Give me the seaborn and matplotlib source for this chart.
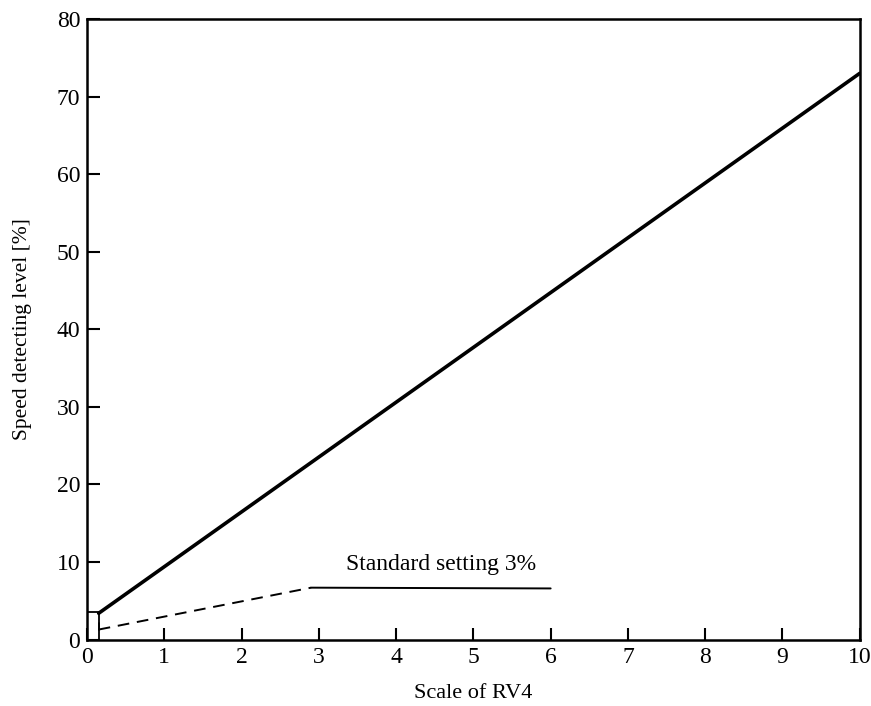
import numpy as np
import pandas as pd
import matplotlib
matplotlib.use("Agg")
import matplotlib.pyplot as plt
import seaborn as sns

# data
rv4_scale = [0.15, 10.0]
detect_level = [3.4, 73.0]
leader_x = [0.15, 2.9, 6.0]
leader_y = [1.3, 6.7, 6.6]
x_ticks = [0, 1, 2, 3, 4, 5, 6, 7, 8, 9, 10]
y_ticks = [0, 10, 20, 30, 40, 50, 60, 70, 80]

sns.set_theme(style="white")
plt.rcParams['font.family'] = ['Liberation Serif', 'DejaVu Serif']

fig = plt.figure(figsize=(8.71, 7.06), dpi=100)
ax = fig.add_axes([0.100, 0.094, 0.887, 0.879])

df = pd.DataFrame({'x': rv4_scale, 'y': detect_level})
sns.lineplot(data=df, x='x', y='y', color='black', linewidth=2.6, ax=ax)

# leader to the annotation: dashed part, then solid
ax.plot(leader_x[:2], leader_y[:2], color='black', linewidth=1.4, linestyle=(0, (6, 4)))
ax.plot(leader_x[1:], leader_y[1:], color='black', linewidth=1.4)
ax.plot([0.15, 0.15], [1.3, 2.1], color='black', linewidth=1.2)
# small box at the origin
ax.plot([0, 0.15, 0.15], [3.5, 3.5, 0], color='black', linewidth=1.3)

ax.text(3.35, 9.0, "Standard setting 3%", fontsize=17, color='black')

ax.set_xlim(0, 10)
ax.set_ylim(0, 80)
ax.set_xticks(x_ticks)
ax.set_yticks(y_ticks)
ax.tick_params(direction='in', length=9, width=1.5, labelsize=17, colors='black',
               bottom=True, left=True, pad=5)
ax.set_xlabel("Scale of RV4", fontsize=16, color='black', labelpad=12)
ax.set_ylabel("Speed detecting level [%]", fontsize=15.5, color='black', labelpad=18)
for s in ax.spines.values():
    s.set_color('black')
    s.set_linewidth(1.8)

fig.savefig("out.png", dpi=100)
